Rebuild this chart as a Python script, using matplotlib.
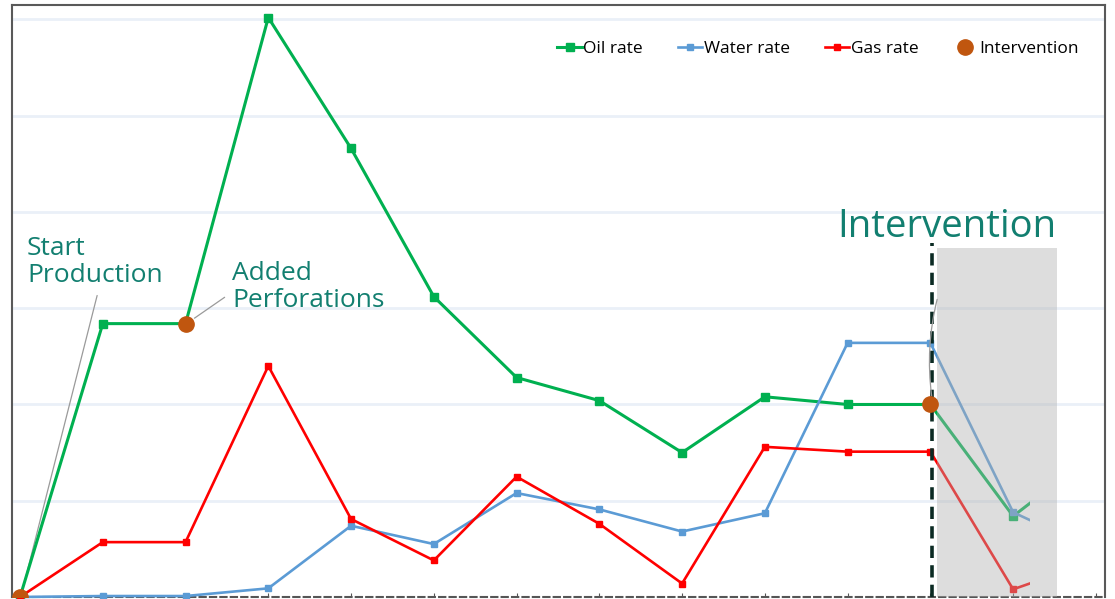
import matplotlib.pyplot as plt
from matplotlib.patches import Rectangle

# monthly well rates (index = period)
periods = list(range(14))
oil_rate = [0, 284, 284, 602, 466, 312, 228, 204, 150, 208, 200, 200, 84, 150]
water_rate = [0, 1, 1, 9, 74, 55, 108, 91, 68, 87, 264, 264, 88, 48]
gas_rate = [0, 57, 57, 240, 81, 38, 125, 76, 14, 156, 151, 151, 8, 38]

# events marked on the oil curve
event_idx = [0, 2, 11]
event_names = ["Start\nProduction", "Added\nPerforations", "Intervention"]

TEAL = "#127f70"
GRID = "#eaf0f8"

fig = plt.figure(figsize=(11.15, 5.99), dpi=100)
ax = fig.add_axes([12 / 1115, 2 / 599, 1093 / 1115, 592 / 599])

ax.set_xlim(-0.097, 13.11)
ax.set_ylim(0, 615)
ax.set_yticks([100, 200, 300, 400, 500, 600])
ax.yaxis.grid(True, color=GRID, lw=2)
ax.set_axisbelow(True)
ax.tick_params(axis="y", length=0, labelleft=False)
ax.set_xticks(periods)
ax.tick_params(axis="x", direction="in", length=3, color="#555555", labelbottom=False)

for s in ["left", "top", "right"]:
    ax.spines[s].set_color("#595959")
    ax.spines[s].set_linewidth(1.5)
ax.spines["bottom"].set_color("#555555")
ax.spines["bottom"].set_linewidth(1.5)
ax.spines["bottom"].set_linestyle((0, (3, 2)))

# series are cut off just past the last full period
clip = Rectangle((-1, -50), 13.2, 800, transform=ax.transData)
series = [
    (oil_rate, "#00b050", 2.2, 5.5, "Oil rate"),
    (water_rate, "#5b9bd5", 1.9, 5, "Water rate"),
    (gas_rate, "#ff0000", 1.9, 5, "Gas rate"),
]
for vals, col, lw, ms, lab in series:
    ln, = ax.plot(periods, vals, color=col, lw=lw, marker="s", ms=ms, label=lab, zorder=3)
    ln.set_clip_path(clip)

# shaded post-intervention window
ax.add_patch(Rectangle((11.08, 0), 1.45, 363, facecolor="#b0b0b0", alpha=0.42,
                       edgecolor="none", zorder=4))
ax.vlines(11.02, 0, 368, color="#0b2a23", lw=2.6, linestyles=[(0, (3.4, 2.0))], zorder=5)

# leader lines to the event markers
ax.annotate("", xy=(0.02, 4), xytext=(0.94, 316),
            arrowprops=dict(arrowstyle="-", color="#9a9a9a", lw=0.9), zorder=2)
ax.annotate("", xy=(2.08, 288), xytext=(2.50, 313),
            arrowprops=dict(arrowstyle="-", color="#9a9a9a", lw=0.9), zorder=2)
ax.annotate("", xy=(11.02, 206), xytext=(11.09, 312),
            arrowprops=dict(arrowstyle="-", color="#9a9a9a", lw=0.9,
                            connectionstyle="arc3,rad=0.1"), zorder=6)

ev_x = [periods[i] for i in event_idx]
ev_y = [oil_rate[i] for i in event_idx]
ax.plot(ev_x, ev_y, ls="none", marker="o", ms=11, color="#c0560f",
        label="Intervention", zorder=7)

ax.text(0.085, 375, event_names[0], color=TEAL, fontsize=19, family="Open Sans",
        ha="left", va="top", linespacing=1.1)
ax.text(2.56, 349, event_names[1], color=TEAL, fontsize=19, family="Open Sans",
        ha="left", va="top", linespacing=1.1)
ax.text(11.2, 374, event_names[2], color=TEAL, fontsize=27.5, family="Open Sans",
        ha="center", va="baseline")

ax.legend(loc="upper right", ncol=4, frameon=False, bbox_to_anchor=(0.99, 0.965),
          prop={"family": "Open Sans", "size": 12.5}, handlelength=1.4,
          handletextpad=0.1, columnspacing=2.0)

fig.savefig("out.png", dpi=100)
